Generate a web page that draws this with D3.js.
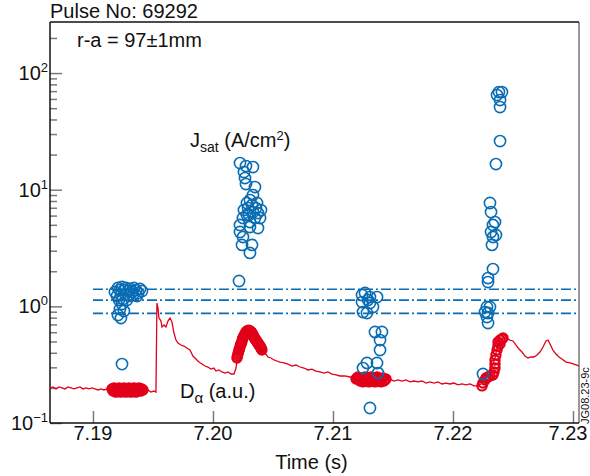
<!DOCTYPE html>
<html>
<head>
<meta charset="utf-8">
<script src="https://cdn.jsdelivr.net/npm/d3@7"></script>
<style>
body { margin: 0; background: #fff; }
svg text { font-family: "Liberation Sans", Arial, Helvetica, sans-serif; fill: #111; }
</style>
</head>
<body>
<div id="chart"></div>
<script>
// D-alpha trace (a.u.)
var dalphaTime = [7.18642, 7.18667, 7.18692, 7.18717, 7.18742, 7.18767, 7.18792, 7.18817, 7.18842, 7.18867,
    7.18892, 7.18917, 7.18942, 7.18967, 7.18992, 7.19017, 7.19042, 7.19067, 7.19092, 7.19117,
    7.19142, 7.19167, 7.19225, 7.19308, 7.19392, 7.19433, 7.19458, 7.19483, 7.19508, 7.19525,
    7.19533, 7.19542, 7.19550, 7.19567, 7.19575, 7.19592, 7.19608, 7.19625, 7.19642, 7.19658,
    7.19675, 7.19692, 7.19708, 7.19733, 7.19758, 7.19783, 7.19808, 7.19833, 7.19858, 7.19883,
    7.19908, 7.19933, 7.19958, 7.19983, 7.20008, 7.20025, 7.20050, 7.20075, 7.20100, 7.20125,
    7.20150, 7.20175, 7.20192, 7.20208, 7.20242, 7.20275, 7.20308, 7.20333, 7.20358, 7.20383,
    7.20408, 7.20433, 7.20458, 7.20483, 7.20508, 7.20533, 7.20558, 7.20592, 7.20625, 7.20658,
    7.20692, 7.20725, 7.20758, 7.20792, 7.20825, 7.20858, 7.20892, 7.20925, 7.20958, 7.20992,
    7.21025, 7.21058, 7.21100, 7.21142, 7.21183, 7.21225, 7.21308, 7.21392, 7.21442, 7.21475,
    7.21508, 7.21542, 7.21575, 7.21608, 7.21642, 7.21675, 7.21708, 7.21742, 7.21775, 7.21808,
    7.21842, 7.21875, 7.21908, 7.21942, 7.21975, 7.22008, 7.22042, 7.22075, 7.22108, 7.22142,
    7.22175, 7.22208, 7.22233, 7.22258, 7.22283, 7.22308, 7.22333, 7.22350, 7.22367, 7.22383,
    7.22408, 7.22442, 7.22475, 7.22500, 7.22525, 7.22550, 7.22575, 7.22600, 7.22625, 7.22650,
    7.22675, 7.22700, 7.22725, 7.22750, 7.22775, 7.22792, 7.22808, 7.22833, 7.22858, 7.22883,
    7.22908, 7.22942, 7.22975, 7.23008, 7.23050];
var dalphaValue = [0.200, 0.204, 0.196, 0.204, 0.200, 0.196, 0.204, 0.200, 0.196, 0.200,
    0.204, 0.196, 0.200, 0.196, 0.200, 0.196, 0.192, 0.196, 0.192, 0.196,
    0.192, 0.192, 0.188, 0.192, 0.188, 0.188, 0.192, 0.184, 0.188, 0.184,
    1.068, 0.968, 0.794, 0.748, 0.665, 0.692, 0.665, 0.748, 0.794, 0.734,
    0.591, 0.514, 0.485, 0.466, 0.457, 0.439, 0.422, 0.375, 0.354, 0.333,
    0.320, 0.308, 0.302, 0.290, 0.296, 0.279, 0.285, 0.274, 0.268, 0.274,
    0.263, 0.263, 0.296, 0.383, 0.466, 0.557, 0.603, 0.568, 0.514, 0.466,
    0.422, 0.398, 0.368, 0.361, 0.347, 0.340, 0.333, 0.327, 0.320, 0.308,
    0.314, 0.302, 0.296, 0.285, 0.290, 0.279, 0.274, 0.268, 0.274, 0.263,
    0.258, 0.253, 0.253, 0.248, 0.243, 0.238, 0.234, 0.234, 0.234, 0.238,
    0.229, 0.234, 0.229, 0.234, 0.225, 0.229, 0.225, 0.229, 0.220, 0.225,
    0.220, 0.225, 0.216, 0.220, 0.216, 0.220, 0.212, 0.216, 0.212, 0.216,
    0.208, 0.208, 0.216, 0.229, 0.248, 0.285, 0.320, 0.361, 0.439, 0.505,
    0.535, 0.535, 0.514, 0.505, 0.466, 0.431, 0.406, 0.375, 0.361, 0.368,
    0.368, 0.383, 0.406, 0.448, 0.505, 0.514, 0.475, 0.422, 0.390, 0.368,
    0.354, 0.333, 0.327, 0.320, 0.308];

// D-alpha sampled at probe times
var dalphaSampleTime = [
    7.19158, 7.19167, 7.19175, 7.19183, 7.19192, 7.19200, 7.19208, 7.19217, 7.19225, 7.19233,
    7.19242, 7.19250, 7.19258, 7.19267, 7.19275, 7.19283, 7.19292, 7.19300, 7.19308, 7.19317,
    7.19325, 7.19333, 7.19342, 7.19350, 7.19358, 7.19367, 7.19375, 7.19383, 7.19392, 7.19400,
    7.19408, 7.19417,
    7.20200, 7.20204, 7.20208, 7.20213, 7.20217, 7.20221, 7.20225, 7.20229, 7.20233, 7.20238,
    7.20242, 7.20246, 7.20250, 7.20254, 7.20258, 7.20263, 7.20267, 7.20271, 7.20275, 7.20279,
    7.20283, 7.20288, 7.20292, 7.20300, 7.20308, 7.20313, 7.20317, 7.20321, 7.20325, 7.20329,
    7.20333, 7.20338, 7.20342, 7.20346, 7.20350, 7.20354, 7.20358, 7.20363, 7.20367, 7.20371,
    7.20375, 7.20379, 7.20383, 7.20388, 7.20392, 7.20396, 7.20400, 7.20404, 7.20408,
    7.21192, 7.21200, 7.21208, 7.21217, 7.21225, 7.21233, 7.21242, 7.21250, 7.21258, 7.21267,
    7.21275, 7.21283, 7.21292, 7.21300, 7.21308, 7.21317, 7.21325, 7.21333, 7.21342, 7.21350,
    7.21358, 7.21367, 7.21375, 7.21383, 7.21392, 7.21400, 7.21408, 7.21417, 7.21425, 7.21433,
    7.21442,
    7.22242, 7.22250, 7.22267, 7.22275, 7.22292, 7.22308, 7.22333, 7.22342, 7.22350, 7.22350,
    7.22350, 7.22358, 7.22367, 7.22375, 7.22375, 7.22392, 7.22408, 7.22417, 7.22392];
var dalphaSampleValue = [
    0.196, 0.188, 0.200, 0.192, 0.184, 0.196, 0.188, 0.200, 0.192, 0.184,
    0.196, 0.188, 0.200, 0.192, 0.184, 0.196, 0.188, 0.200, 0.192, 0.184,
    0.196, 0.188, 0.200, 0.192, 0.184, 0.196, 0.188, 0.200, 0.192, 0.188,
    0.196, 0.192,
    0.361, 0.375, 0.390, 0.406, 0.422, 0.431, 0.448, 0.466, 0.475, 0.485,
    0.505, 0.524, 0.535, 0.546, 0.557, 0.568, 0.579, 0.591, 0.591, 0.610,
    0.603, 0.620, 0.615, 0.625, 0.615, 0.610, 0.603, 0.597, 0.591, 0.580,
    0.568, 0.557, 0.546, 0.535, 0.525, 0.520, 0.514, 0.505, 0.495, 0.490,
    0.485, 0.476, 0.466, 0.462, 0.457, 0.448, 0.439, 0.431, 0.422,
    0.238, 0.243, 0.248, 0.238, 0.229, 0.243, 0.234, 0.225, 0.238, 0.248,
    0.229, 0.243, 0.234, 0.225, 0.238, 0.248, 0.229, 0.243, 0.234, 0.225,
    0.238, 0.248, 0.229, 0.243, 0.234, 0.225, 0.238, 0.243, 0.229, 0.234,
    0.238,
    0.208, 0.220, 0.234, 0.243, 0.248, 0.253, 0.258, 0.274, 0.296, 0.320,
    0.347, 0.383, 0.422, 0.457, 0.495, 0.514, 0.524, 0.535, 0.476];

// Jsat (A/cm2)
var jsatTime = [7.19183, 7.19208, 7.19225, 7.19242, 7.19258, 7.19275, 7.19292, 7.19308, 7.19325, 7.19342,
    7.19358, 7.19375, 7.19392, 7.19408, 7.19200, 7.19233, 7.19267, 7.19300, 7.19333, 7.19367,
    7.19217, 7.19250, 7.19283, 7.19242, 7.19225, 7.19258, 7.19208, 7.19233, 7.19242,
    7.20225, 7.20275, 7.20333, 7.20258, 7.20267, 7.20275, 7.20350, 7.20333, 7.20308, 7.20283,
    7.20325, 7.20367, 7.20292, 7.20358, 7.20258, 7.20400, 7.20333, 7.20375, 7.20283, 7.20300,
    7.20250, 7.20350, 7.20392, 7.20308, 7.20225, 7.20308, 7.20375, 7.20225, 7.20250, 7.20242,
    7.20325, 7.20308, 7.20217,
    7.21242, 7.21267, 7.21308, 7.21367, 7.21242, 7.21292, 7.21308, 7.21333, 7.21250, 7.21283,
    7.21350, 7.21408, 7.21392, 7.21392, 7.21283, 7.21367, 7.21250, 7.21375, 7.21308,
    7.22383, 7.22408, 7.22367, 7.22392, 7.22392, 7.22392, 7.22358, 7.22308, 7.22317, 7.22350,
    7.22333, 7.22317, 7.22358, 7.22333, 7.22325, 7.22333, 7.22292, 7.22292, 7.22283, 7.22308,
    7.22267, 7.22292, 7.22283, 7.22292, 7.22250];
var jsatValue = [1.327, 1.436, 1.380, 1.465, 1.380, 1.436, 1.353, 1.408, 1.327, 1.436,
    1.380, 1.301, 1.408, 1.353, 1.226, 1.251, 1.276, 1.226, 1.251, 1.226,
    1.133, 1.156, 1.133, 1.047, 0.949, 0.912, 0.843, 0.794, 0.320,
    16.93, 15.95, 15.64, 14.17, 12.59, 11.18, 10.54, 9.00, 8.15, 7.69,
    7.39, 7.69, 6.96, 6.96, 6.69, 6.69, 6.43, 6.31, 6.07, 6.07,
    5.72, 5.72, 5.72, 5.28, 4.98, 4.79, 4.69, 4.34, 3.93, 3.36,
    3.36, 2.87, 1.649,
    1.251, 1.301, 1.202, 1.202, 1.089, 1.133, 1.068, 0.987, 0.894, 0.877,
    0.603, 0.603, 0.514, 0.422, 0.327, 0.327, 0.296, 0.268, 0.1345,
    68.7, 68.7, 64.8, 58.7, 51.1, 26.13, 16.6, 7.69, 6.43, 5.28,
    4.98, 4.34, 4.09, 3.93, 3.36, 2.089, 1.749, 1.616, 0.987, 0.987,
    0.894, 0.877, 0.810, 0.720, 0.263];

// dash-dot reference levels for Jsat
var jsatLevels = [1.40, 1.13, 0.87];
var levelStart = 7.19;

var xTicks = [7.19, 7.20, 7.21, 7.22, 7.23];
var yMajor = [0.1, 1, 10, 100];
var yExponents = ["\u22121", "0", "1", "2"];
var yMinor = [0.2, 0.3, 0.4, 0.5, 0.6, 0.7, 0.8, 0.9, 2, 3, 4, 5, 6, 7, 8, 9,
    20, 30, 40, 50, 60, 70, 80, 90, 200];

var blue = "#0a6db3";
var red = "#e2001a";
var tickGrey = "#7a7a7a";

var margin = {top: 22, right: 11, bottom: 53, left: 50};
var width = 590 - margin.left - margin.right;
var height = 476 - margin.top - margin.bottom;

var x = d3.scaleLinear()
    .domain([7.18642, 7.2305])
    .range([0, width]);

var y = d3.scaleLog()
    .domain([0.1, 274])
    .range([height, 0]);

var svg = d3.select("#chart").append("svg")
    .attr("width", 590)
    .attr("height", 476)
    .append("g")
    .attr("transform", "translate(" + margin.left + "," + margin.top + ")");

// ticks (inward)
var yAxisMajor = d3.axisRight(y).tickValues(yMajor).tickSize(12).tickFormat("");
var yAxisMinor = d3.axisRight(y).tickValues(yMinor).tickSize(7).tickFormat("");
var xAxis = d3.axisTop(x).tickValues(xTicks).tickSize(12).tickFormat("");

function styleTicks(g) {
    g.select(".domain").remove();
    g.selectAll(".tick line").attr("stroke", tickGrey).attr("stroke-width", 1.5);
}

svg.append("g").call(yAxisMajor).call(styleTicks);
svg.append("g").call(yAxisMinor).call(styleTicks);
svg.append("g")
    .attr("transform", "translate(0," + height + ")")
    .call(xAxis).call(styleTicks);

// frame
svg.append("line").attr("x1", 0).attr("x2", width).attr("y1", 0).attr("y2", 0)
    .attr("stroke", "#111").attr("stroke-width", 1.5);
svg.append("line").attr("x1", width).attr("x2", width).attr("y1", 0).attr("y2", height)
    .attr("stroke", "#333").attr("stroke-width", 1);
svg.append("line").attr("x1", 0).attr("x2", 0).attr("y1", 0).attr("y2", height)
    .attr("stroke", "#111").attr("stroke-width", 1.5);
svg.append("line").attr("x1", 0).attr("x2", width).attr("y1", height).attr("y2", height)
    .attr("stroke", "#111").attr("stroke-width", 1.5);

// y labels 10^n
var ylab = svg.selectAll(".ylab")
    .data(yMajor)
    .enter().append("text")
    .attr("class", "ylab")
    .attr("x", -2)
    .attr("y", function(d) { return y(d) + 7; })
    .attr("text-anchor", "end")
    .style("font-size", "20px");
ylab.append("tspan").text("10");
ylab.append("tspan")
    .attr("dy", -8)
    .style("font-size", "13px")
    .text(function(d, i) { return yExponents[i]; });

// x labels
svg.selectAll(".xlab")
    .data(xTicks)
    .enter().append("text")
    .attr("class", "xlab")
    .attr("x", function(d, i) { return x(d) - (i == xTicks.length - 1 ? 5 : 0); })
    .attr("y", height + 17)
    .attr("text-anchor", "middle")
    .style("font-size", "20px")
    .text(function(d) { return d.toFixed(2); });

svg.append("text")
    .attr("x", width / 2 - 3)
    .attr("y", height + 46)
    .attr("text-anchor", "middle")
    .style("font-size", "20px")
    .text("Time (s)");

// dash-dot levels
svg.selectAll(".level")
    .data(jsatLevels)
    .enter().append("line")
    .attr("x1", x(levelStart))
    .attr("x2", width)
    .attr("y1", function(d) { return y(d); })
    .attr("y2", function(d) { return y(d); })
    .attr("stroke", blue)
    .attr("stroke-width", 1.6)
    .attr("stroke-dasharray", "10,3,2,3");

svg.append("clipPath").attr("id", "plotclip")
    .append("rect").attr("width", width).attr("height", height);

var plot = svg.append("g").attr("clip-path", "url(#plotclip)");

var line = d3.line()
    .x(function(d) { return x(d[0]); })
    .y(function(d) { return y(d[1]); });

plot.append("path")
    .datum(d3.zip(dalphaTime, dalphaValue))
    .attr("fill", "none")
    .attr("stroke", red)
    .attr("stroke-width", 1.3)
    .attr("d", line);

plot.selectAll(".dsample")
    .data(d3.zip(dalphaSampleTime, dalphaSampleValue))
    .enter().append("circle")
    .attr("cx", function(d) { return x(d[0]); })
    .attr("cy", function(d) { return y(d[1]); })
    .attr("r", 4.6)
    .attr("fill", "none")
    .attr("stroke", red)
    .attr("stroke-width", 2.2);

plot.selectAll(".jsat")
    .data(d3.zip(jsatTime, jsatValue))
    .enter().append("circle")
    .attr("cx", function(d) { return x(d[0]); })
    .attr("cy", function(d) { return y(d[1]); })
    .attr("r", 5.6)
    .attr("fill", "none")
    .attr("stroke", blue)
    .attr("stroke-width", 1.6);

// annotations
var jl = svg.append("text")
    .attr("x", 190 - margin.left)
    .attr("y", 147 - margin.top)
    .style("font-size", "20px");
jl.append("tspan").text("J");
jl.append("tspan").attr("dy", 5).style("font-size", "14px").text("sat");
jl.append("tspan").attr("dy", -5).text(" (A/cm");
jl.append("tspan").attr("dy", -7).style("font-size", "13px").text("2");
jl.append("tspan").attr("dy", 7).text(")");

var dl = svg.append("text")
    .attr("x", 180 - margin.left)
    .attr("y", 398 - margin.top)
    .style("font-size", "20px");
dl.append("tspan").text("D");
dl.append("tspan").attr("dy", 5).style("font-size", "15px").text("\u03b1");
dl.append("tspan").attr("dy", -5).text(" (a.u.)");

svg.append("text")
    .attr("x", 77 - margin.left)
    .attr("y", 47 - margin.top)
    .style("font-size", "20px")
    .text("r-a = 97\u00b11mm");

svg.append("text")
    .attr("x", 0)
    .attr("y", -4)
    .style("font-size", "20px")
    .text("Pulse No: 69292");

svg.append("text")
    .attr("transform", "translate(" + (width + 10) + "," + (height + 1) + ") rotate(-90)")
    .style("font-size", "11px")
    .text("JG08.23-9c");
</script>
</body>
</html>
